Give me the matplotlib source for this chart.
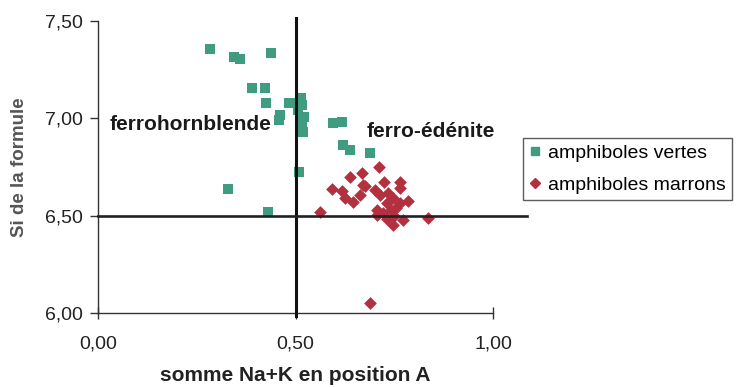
import matplotlib
matplotlib.use("Agg")
import matplotlib.pyplot as plt
from matplotlib.lines import Line2D

plt.rcParams['font.family'] = ['Liberation Sans', 'DejaVu Sans']

# green amphiboles (x: Na+K in A, y: Si)
vertes_x = [0.284, 0.345, 0.359, 0.439, 0.390, 0.422, 0.426, 0.483, 0.461, 0.457,
            0.513, 0.516, 0.507, 0.511, 0.522, 0.516, 0.520, 0.509, 0.330, 0.596,
            0.617, 0.621, 0.638, 0.689, 0.430, 0.486]
vertes_y = [7.354, 7.317, 7.303, 7.334, 7.154, 7.154, 7.077, 7.077, 7.017, 6.991,
            7.103, 7.068, 7.043, 7.008, 7.005, 6.957, 6.931, 6.726, 6.635, 6.974,
            6.983, 6.863, 6.837, 6.820, 6.518, 7.080]

# brown amphiboles
marrons_x = [0.562, 0.592, 0.617, 0.625, 0.646, 0.638, 0.663, 0.668, 0.672, 0.711,
             0.724, 0.765, 0.701, 0.765, 0.735, 0.714, 0.748, 0.786, 0.731, 0.765,
             0.706, 0.743, 0.722, 0.706, 0.731, 0.773, 0.748, 0.836, 0.689, 0.755,
             0.750, 0.676]
marrons_y = [6.520, 6.635, 6.628, 6.589, 6.572, 6.697, 6.606, 6.721, 6.657, 6.748,
             6.674, 6.674, 6.632, 6.640, 6.615, 6.606, 6.589, 6.577, 6.563, 6.563,
             6.529, 6.529, 6.512, 6.503, 6.481, 6.478, 6.452, 6.486, 6.053, 6.540,
             6.500, 6.652]

x_ticks = [0.0, 0.5, 1.0]
x_labels = ["0,00", "0,50", "1,00"]
y_ticks = [6.0, 6.5, 7.0, 7.5]
y_labels = ["6,00", "6,50", "7,00", "7,50"]

green = '#3f9c80'
red = '#b3303f'

fig = plt.figure(figsize=(7.37, 3.87), dpi=100)
ax = fig.add_axes([98/737, 1 - 313/387, (493 - 98)/737, (313 - 21)/387])

ax.scatter(vertes_x, vertes_y, marker='s', s=50, color=green, linewidths=0, zorder=3,
           label='amphiboles vertes')
ax.scatter(marrons_x, marrons_y, marker='D', s=42, color=red, linewidths=0, zorder=3,
           label='amphiboles marrons')

ax.plot([0.5, 0.5], [5.985, 7.515], color='#111111', lw=2.2, zorder=4, clip_on=False)
ax.plot([0.0, 1.085], [6.5, 6.5], color='#222222', lw=1.9, zorder=4, clip_on=False)

ax.set_xlim(0, 1)
ax.set_ylim(6, 7.5)
ax.set_xticks(x_ticks)
ax.set_xticklabels(x_labels)
ax.set_yticks(y_ticks)
ax.set_yticklabels(y_labels)

for side in ['top', 'right']:
    ax.spines[side].set_visible(False)
for side in ['left', 'bottom']:
    ax.spines[side].set_color('#333333')
    ax.spines[side].set_linewidth(1.0)

ax.tick_params(axis='y', direction='out', length=5.5, width=1, colors='#333333',
               labelsize=14, labelcolor='#222222', pad=5.5)
ax.tick_params(axis='x', direction='inout', length=8, width=1, colors='#333333',
               labelsize=14, labelcolor='#222222', pad=12)

ax.set_xlabel('somme Na+K en position A', fontsize=15, fontweight='bold',
              color='#222222', labelpad=10)
ax.set_ylabel('Si de la formule', fontsize=13.5, fontweight='bold',
              color='#555555', labelpad=12)

ax.text(0.030, 6.966, 'ferrohornblende', fontsize=15, fontweight='bold',
        color='#1a1a1a', va='center', ha='left', zorder=5)
ax.text(0.681, 6.93, 'ferro-édénite', fontsize=15, fontweight='bold',
        color='#1a1a1a', va='center', ha='left', zorder=5)

handles = [Line2D([], [], marker='s', ls='none', color=green, markersize=6),
           Line2D([], [], marker='D', ls='none', color=red, markersize=5)]
leg = fig.legend(handles, ['amphiboles vertes', 'amphiboles marrons'],
                 loc='center left', bbox_to_anchor=(523/737, 1 - 169/387),
                 fontsize=14, frameon=True, fancybox=False, handlelength=0.6,
                 handletextpad=0.4, borderpad=0.3, labelspacing=0.75,
                 borderaxespad=0)
leg.get_frame().set_edgecolor('#333333')
leg.get_frame().set_linewidth(1.0)

fig.savefig('out.png', dpi=100)
